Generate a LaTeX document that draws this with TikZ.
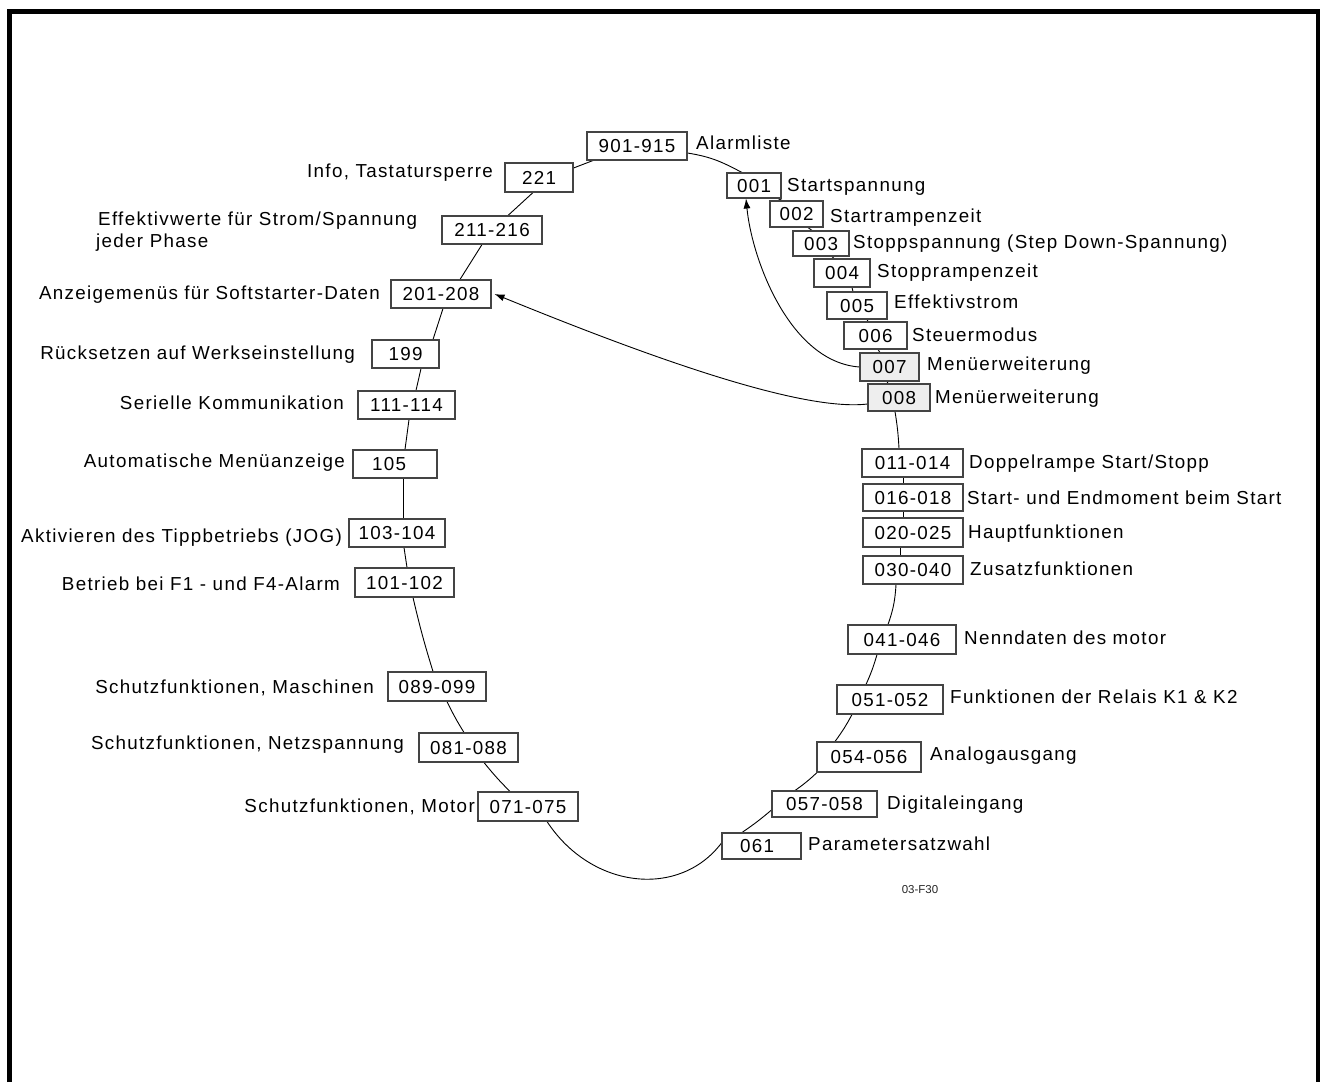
\documentclass[tikz,border=0pt]{standalone}
\usepackage{fontspec}
\setmainfont{Liberation Sans}[LetterSpace=7]
\usetikzlibrary{arrows.meta}
\pgfdeclarelayer{bg}
\pgfsetlayers{bg,main}
\definecolor{boxc}{HTML}{444444}
\definecolor{grayfill}{HTML}{EEEEEE}
\begin{document}
\begin{tikzpicture}[x=1pt,y=-1pt,
  every node/.style={font=\fontsize{18.8}{22}\selectfont, inner sep=0pt},
  box/.style={draw=boxc, line width=1.05pt, fill=white, minimum height=28pt, inner sep=0pt, text height=13.5pt, text depth=-3pt},
  gbox/.style={box, fill=grayfill},
  rlab/.style={anchor=base west},
  llab/.style={anchor=base east},
  conn/.style={line width=0.9pt},
  arr/.style={line width=0.9pt, -{Latex[length=10pt,width=7pt]}}]
\useasboundingbox (0,0) rectangle (1320,1082);
\draw[line width=4.5pt, line join=miter] (9.5,1082) -- (9.5,11.5) -- (1318,11.5) -- (1318,1082);

% right side boxes
\node[box, minimum width=100pt] (n901) at (637,146) {901-915};
\node[box, minimum width=54pt, minimum height=25pt] (n001) at (754,185.5) {001};
\node[box, minimum width=53pt, minimum height=26pt] (n002) at (796.5,214) {002};
\node[box, minimum width=56pt, minimum height=25pt] (n003) at (821,243.5) {003};
\node[box, minimum width=56pt, minimum height=28pt] (n004) at (842,273) {004};
\node[box, minimum width=60pt, minimum height=27pt] (n005) at (857,305.5) {005};
\node[box, minimum width=63pt, minimum height=27pt] (n006) at (875.5,335.5) {006};
\node[gbox, minimum width=59pt, minimum height=28pt] (n007) at (889.5,367) {007};
\node[gbox, minimum width=62pt, minimum height=27pt] (n008) at (899,397.5) {008};
\node[box, minimum width=101pt, minimum height=28pt] (n011) at (912.5,463) {011-014};
\node[box, minimum width=100pt, minimum height=27pt] (n016) at (913,497.5) {016-018};
\node[box, minimum width=100pt, minimum height=29pt] (n020) at (913,532.5) {020-025};
\node[box, minimum width=100pt, minimum height=28pt] (n030) at (913,570) {030-040};
\node[box, minimum width=108pt, minimum height=29pt] (n041) at (902,639.5) {041-046};
\node[box, minimum width=106pt, minimum height=29pt] (n051) at (890,699.5) {051-052};
\node[box, minimum width=104pt, minimum height=30pt] (n054) at (869,757) {054-056};
\node[box, minimum width=105pt, minimum height=26pt] (n057) at (824.5,804) {057-058};
\node[box, minimum width=79pt, minimum height=26pt] (n061) at (761.5,846) {061\hspace*{9pt}};

% left side boxes
\node[box, minimum width=68pt, minimum height=29pt] (n221) at (539,177.5) {221};
\node[box, minimum width=100pt] (n211) at (492,230) {211-216};
\node[box, minimum width=100pt] (n201) at (441,294) {201-208};
\node[box, minimum width=67pt] (n199) at (405.5,354) {199};
\node[box, minimum width=97pt] (n111) at (406.5,405) {111-114};
\node[box, minimum width=84pt] (n105) at (395,464) {105\hspace*{12pt}};
\node[box, minimum width=96pt] (n103) at (397,533) {103-104};
\node[box, minimum width=99pt, minimum height=29pt] (n101) at (404.5,582.5) {101-102};
\node[box, minimum width=98pt, minimum height=29pt] (n089) at (437,686.5) {089-099};
\node[box, minimum width=99pt, minimum height=29pt] (n081) at (468.5,747.5) {081-088};
\node[box, minimum width=100pt, minimum height=29pt] (n071) at (528,806.5) {071-075};

% right labels
\node[rlab] (l901) at (696,149) {Alarmliste};
\node[rlab] (l001) at (787,191) {Startspannung};
\node[rlab] (l002) at (830,222) {Startrampenzeit};
\node[rlab] (l003) at (853,248) {Stoppspannung (Step Down-Spannung)};
\node[rlab] (l004) at (877,277) {Stopprampenzeit};
\node[rlab] (l005) at (894,308) {Effektivstrom};
\node[rlab] (l006) at (912,341) {Steuermodus};
\node[rlab] (l007) at (927,370) {Menüerweiterung};
\node[rlab] (l008) at (935,403) {Menüerweiterung};
\node[rlab] (l011) at (969,468) {Doppelrampe Start/Stopp};
\node[rlab] (l016) at (967,504) {Start- und Endmoment beim Start};
\node[rlab] (l020) at (968,538) {Hauptfunktionen};
\node[rlab] (l030) at (970,575) {Zusatzfunktionen};
\node[rlab] (l041) at (964,644) {Nenndaten des motor};
\node[rlab] (l051) at (950,703) {Funktionen der Relais K1 \& K2};
\node[rlab] (l054) at (930,760) {Analogausgang};
\node[rlab] (l057) at (887,809) {Digitaleingang};
\node[rlab] (l061) at (808,850) {Parametersatzwahl};

% left labels
\node[llab] (l221) at (493,177) {Info, Tastatursperre};
\node[rlab] (l211a) at (98,225) {Effektivwerte für Strom/Spannung};
\node[rlab] (l211b) at (96,247) {jeder Phase};
\node[llab] (l201) at (380,299) {Anzeigemenüs für Softstarter-Daten};
\node[llab] (l199) at (355,359) {Rücksetzen auf Werkseinstellung};
\node[llab] (l111) at (344,409) {Serielle Kommunikation};
\node[llab] (l105) at (345,467) {Automatische Menüanzeige};
\node[llab] (l103) at (342,542) {Aktivieren des Tippbetriebs (JOG)};
\node[llab] (l101) at (340,590) {Betrieb bei F1 - und F4-Alarm};
\node[llab] (l089) at (374,693) {Schutzfunktionen, Maschinen};
\node[llab] (l081) at (404,749) {Schutzfunktionen, Netzspannung};
\node[llab] (l071) at (475,812) {Schutzfunktionen, Motor};

\node[font=\fontsize{11.5}{13}\selectfont\addfontfeature{LetterSpace=0}, text=black!85] (code) at (920,890) {03-F30};

\begin{pgfonlayer}{bg}
% top and right chain
\draw[conn] ([yshift=-7pt]n901.east) .. controls (712,157) and (722,162) .. ([xshift=-12pt]n001.north);
\draw[conn] ([xshift=24pt]n001.south) -- ([xshift=-14.5pt]n002.north);
\draw[conn] ([xshift=11.5pt]n002.south) -- ([xshift=-9pt]n003.north);
\draw[conn] ([xshift=11pt]n003.south) -- ([xshift=-8pt]n004.north);
\draw[conn] ([xshift=10pt]n004.south) -- ([xshift=-4pt]n005.north);
\draw[conn] ([xshift=10pt]n005.south) -- ([xshift=-7.5pt]n006.north);
\draw[conn] ([xshift=2.5pt]n006.south) -- ([xshift=-9.5pt]n007.north);
\draw[conn] ([xshift=-2.5pt]n007.south) -- ([xshift=-11pt]n008.north);
\draw[conn] ([xshift=-4pt]n008.south) to[bend left=3] ([xshift=-13.5pt]n011.north);
\draw[conn] ([xshift=-9.5pt]n011.south) -- ([xshift=-10pt]n016.north);
\draw[conn] ([xshift=-10pt]n016.south) -- ([xshift=-10pt]n020.north);
\draw[conn] ([xshift=-13pt]n020.south) -- ([xshift=-13pt]n030.north);
\draw[conn] ([xshift=-17pt]n030.south) to[bend left=8] ([xshift=-14pt]n041.north);
\draw[conn] ([xshift=-25pt]n041.south) to[bend left=4] ([xshift=-24pt]n051.north);
\draw[conn] ([xshift=-38pt]n051.south) to[bend left=4] ([xshift=-34pt]n054.north);
\draw[conn] ([xshift=-52pt]n054.south) to[bend left=4] ([xshift=-29.5pt]n057.north);
\draw[conn] ([yshift=-6pt]n057.west) to[bend left=3] ([xshift=-19.5pt]n061.north);
% bottom arc
\draw[conn] ([yshift=3pt]n061.west) .. controls (680,898) and (592,890) .. ([xshift=19pt]n071.south);
% left chain
\draw[conn] ([xshift=-18pt]n071.north) to[bend left=3] ([xshift=15.5pt]n081.south);
\draw[conn] ([xshift=-4.5pt]n081.north) to[bend left=3] ([xshift=10pt]n089.south);
\draw[conn] ([xshift=-4pt]n089.north) to[bend left=2] ([xshift=8.5pt]n101.south);
\draw[conn] ([xshift=2.5pt]n101.north) -- ([xshift=7pt]n103.south);
\draw[conn] ([xshift=6pt]n103.north) -- ([xshift=8pt]n105.south);
\draw[conn] ([xshift=10pt]n105.north) -- ([xshift=2.5pt]n111.south);
\draw[conn] ([xshift=9.5pt]n111.north) -- ([xshift=15.5pt]n199.south);
\draw[conn] ([xshift=27.5pt]n199.north) -- ([xshift=2pt]n201.south);
\draw[conn] ([xshift=19pt]n201.north) -- ([xshift=-10pt]n211.south);
\draw[conn] ([xshift=16pt]n211.north) -- ([xshift=-6pt]n221.south);
\draw[conn] ([yshift=9.5pt]n221.east) -- ([xshift=-44pt]n901.south);
% arrows
\draw[arr] (n007.west) .. controls (790,362) and (752,260) .. ([xshift=-8pt]n001.south);
\draw[arr] ([yshift=-6.5pt]n008.west) .. controls (800,412) and (644,355) .. ([xshift=3pt]n201.east);
\end{pgfonlayer}
\end{tikzpicture}
\end{document}
